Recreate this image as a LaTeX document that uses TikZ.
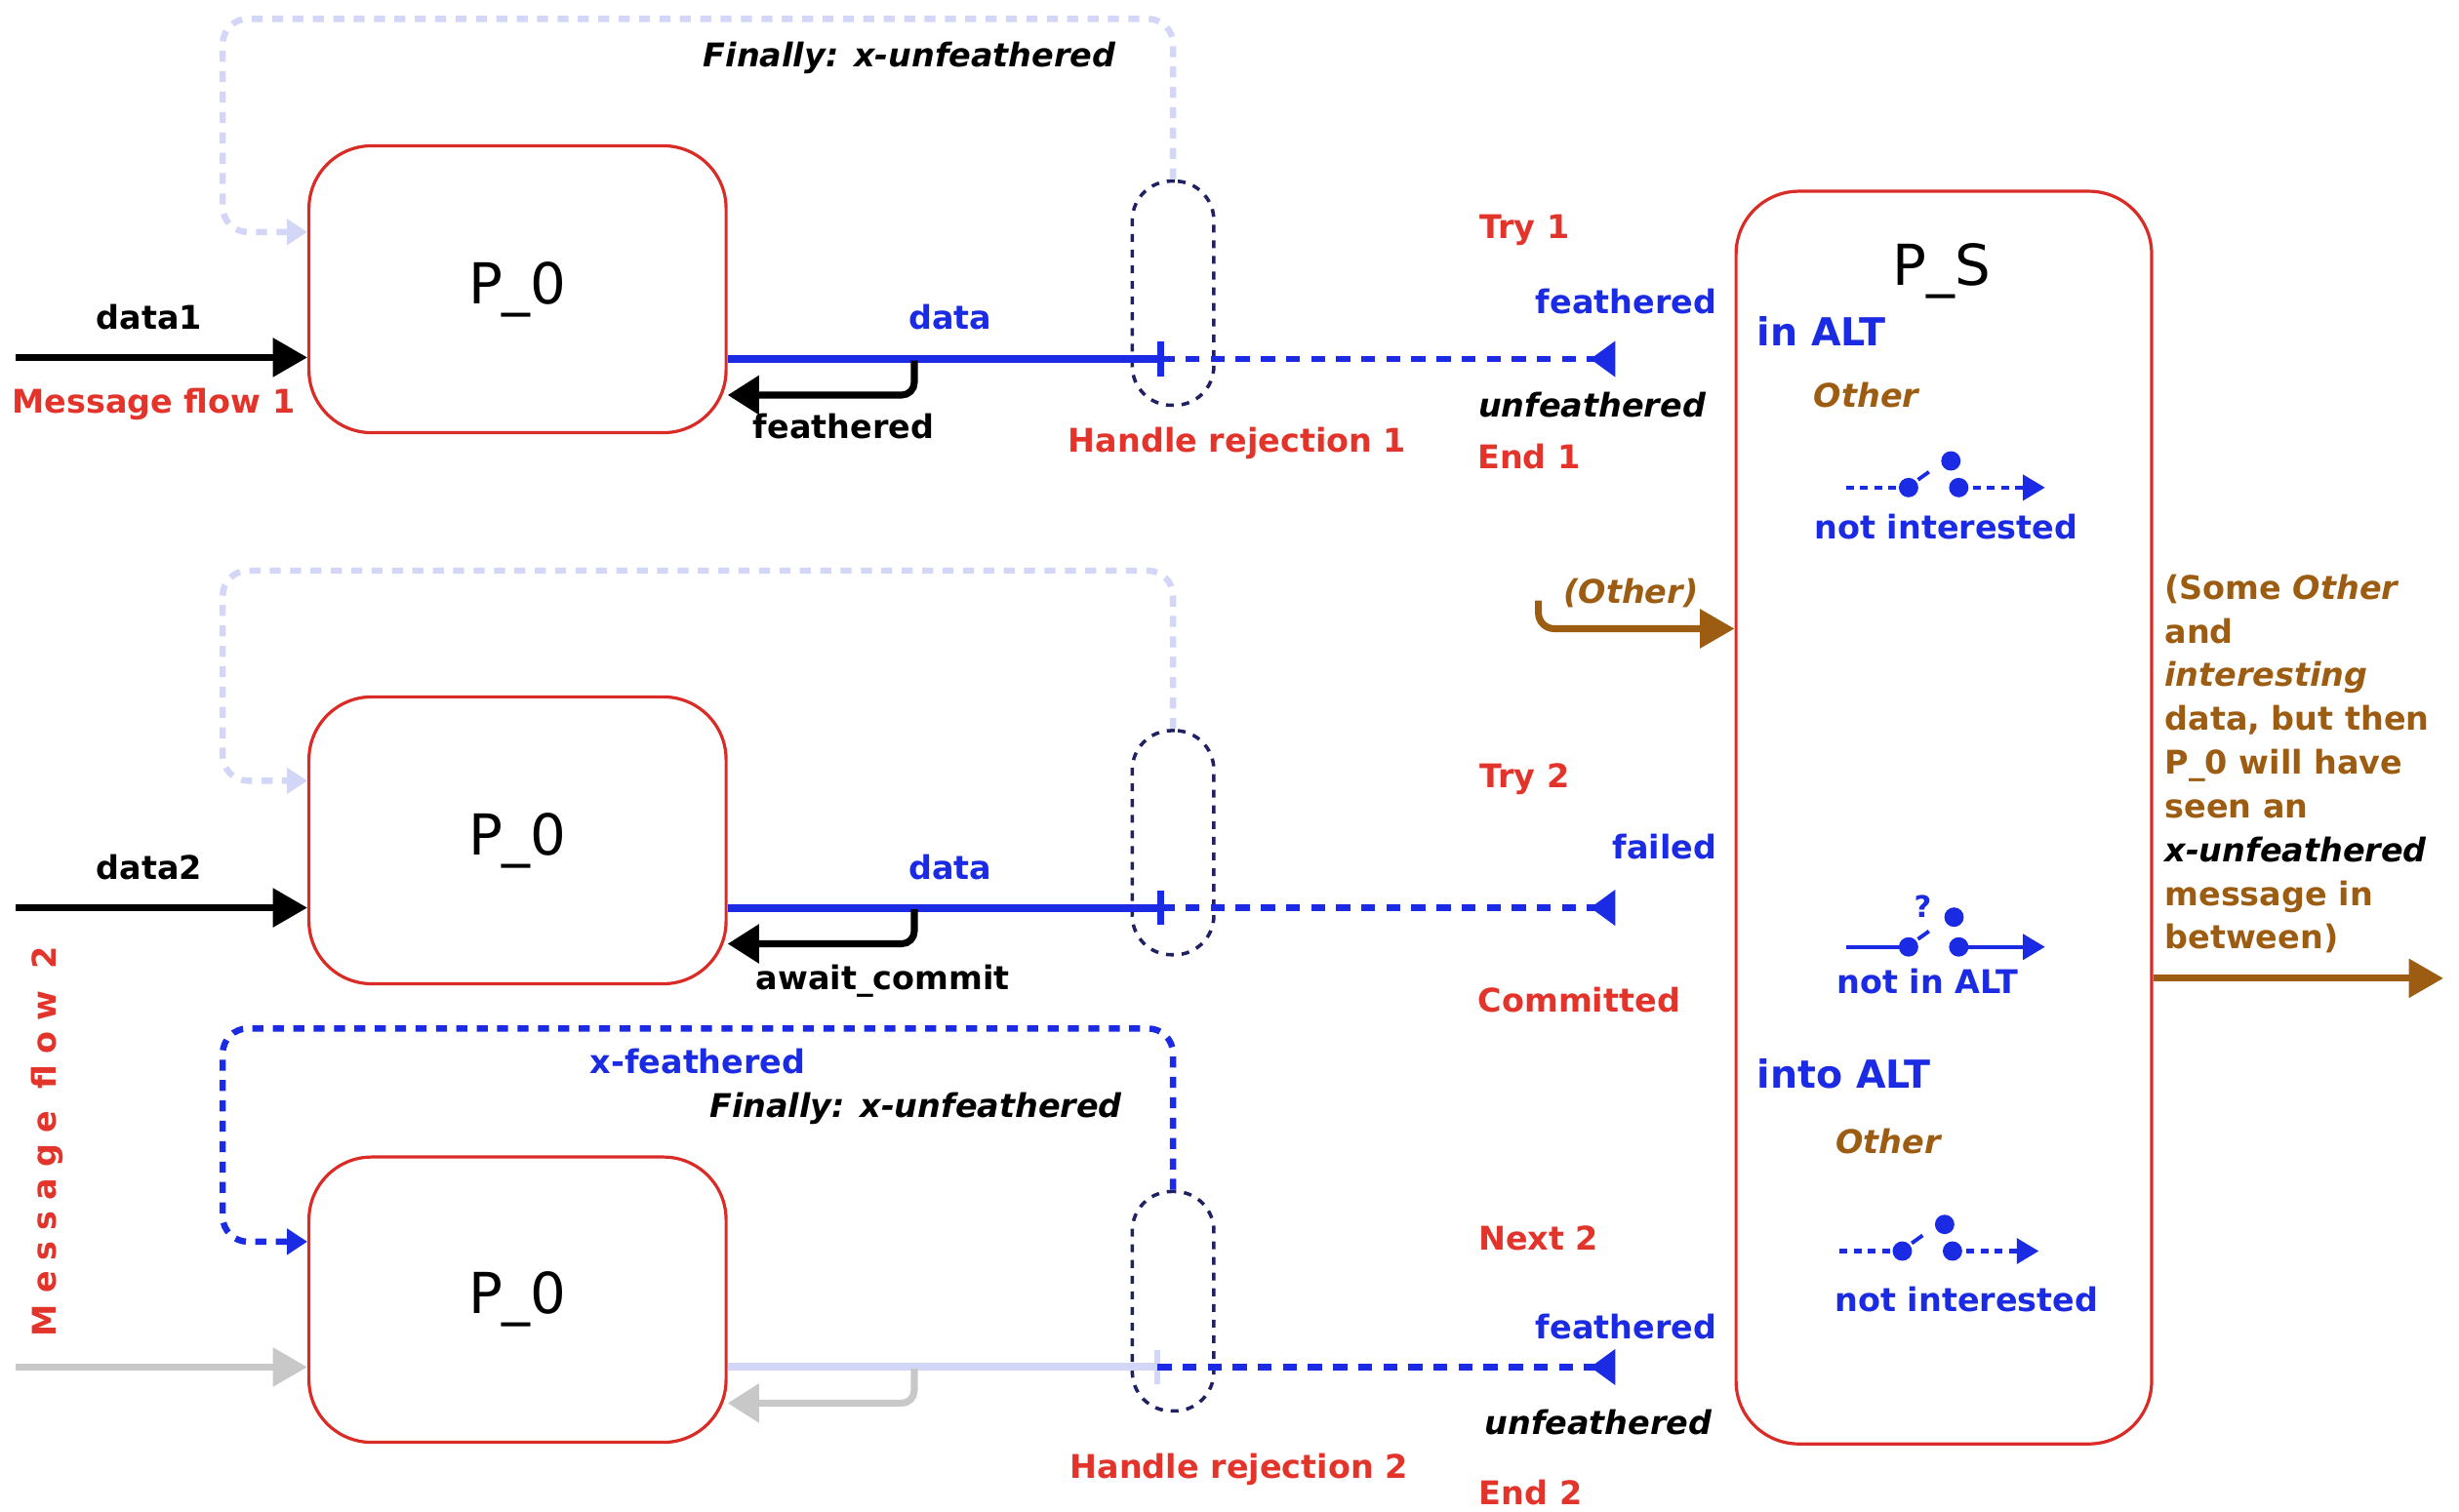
\documentclass[tikz,border=0pt]{standalone}
\usepackage{fontspec}
\setmainfont{DejaVu Sans}
\usetikzlibrary{arrows.meta,calc}
\definecolor{myred}{HTML}{E3342B}
\definecolor{boxred}{HTML}{DA2C26}
\definecolor{myblue}{HTML}{1B2BE3}
\definecolor{lav}{HTML}{D3D6F6}
\definecolor{navy}{HTML}{1F2163}
\definecolor{mybrown}{HTML}{9C5C12}
\definecolor{lgrey}{HTML}{C8C8C8}
\newcommand\myswitch[5]{% x, y, line style, raised dx, raised dy
  \begin{scope}[shift={(#1,#2)}]
    \draw[myblue, line width=1.3pt, #3] (-40,0) -- (0,0);
    \draw[myblue, line width=1.3pt, #3, -{Triangle[length=7pt,width=8pt]}] (32,0) -- (87,0);
    \fill[myblue] (0,0) circle (3.1pt);
    \fill[myblue] (32,0) circle (3.1pt);
    \fill[myblue] (#4,#5) circle (3.1pt);
    \draw[myblue, line width=1.2pt] (6,-5) -- (13,-10);
  \end{scope}}
\begin{document}
\begin{tikzpicture}[x=0.5pt,y=-0.5pt,
  lbl/.style={inner sep=0pt, font=\fontsize{10.4}{12.5}\selectfont\bfseries},
  ilbl/.style={inner sep=0pt, font=\fontsize{10.4}{12.5}\selectfont\bfseries\itshape},
  biglbl/.style={inner sep=0pt, font=\fontsize{12.3}{14}\selectfont\bfseries},
  procbox/.style={draw=boxred, line width=1pt, rounded corners=20pt, minimum width=133pt, minimum height=91.5pt, inner sep=0pt, font=\fontsize{18}{20}\selectfont},
  rejell/.style={draw=navy, line width=1.1pt, dash pattern=on 2.5pt off 2.5pt, rounded corners=12.5pt, minimum width=26pt, minimum height=71.5pt, inner sep=0pt},
  inarrow/.style={line width=2.2pt, -{Triangle[length=11pt,width=12pt]}},
  fbarrow/.style={line width=2.2pt, rounded corners=4pt, -{Triangle[length=10pt,width=12pt]}},
  dataline/.style={line width=2.5pt},
  barmark/.style={line width=2pt},
  retline/.style={myblue, line width=2pt, dash pattern=on 4.5pt off 3.5pt, -{Triangle[reversed,length=8pt,width=11pt]}},
  lavloop/.style={lav, line width=2pt, dash pattern=on 3.5pt off 3pt, rounded corners=8pt, -{Triangle[length=6.5pt,width=8pt]}},
  blueloop/.style={myblue, line width=2pt, dash pattern=on 3.5pt off 3pt, rounded corners=8pt, -{Triangle[length=6.5pt,width=8pt]}},
  brownarrow/.style={mybrown, line width=2.2pt, rounded corners=5pt, -{Triangle[length=11pt,width=12pt]}}
]
\path[use as bounding box] (0,0) rectangle (1568,964);

% process boxes
\node[procbox] (p0a) at (330,184.5) {P\_0};
\node[procbox] (p0b) at (330,536) {P\_0};
\node[procbox, minimum height=91pt] (p0c) at (330,829) {P\_0};
\node[draw=boxred, line width=1pt, rounded corners=20pt, minimum width=132.5pt, minimum height=399.5pt, inner sep=0pt] (ps) at (1239.5,521.5) {};
\node[inner sep=0pt, font=\fontsize{18}{20}\selectfont] (pslbl) at (1238,173) {P\_S};

% rejection ellipses
\node[rejell] (ella) at (748,187) {};
\node[rejell] (ellb) at (748,537.5) {};
\node[rejell, minimum height=70pt] (ellc) at (748,830) {};

% ---------- flow 1 ----------
\coordinate (in1) at (10,228);
\draw[inarrow] (in1) -- (in1 -| p0a.west);
\coordinate (bar1) at (740,229);
\draw[dataline, myblue] (p0a.east |- bar1) -- (bar1);
\draw[barmark, myblue] (bar1) ++(0,-11) -- ++(0,22);
\coordinate (tri1) at (1030,229);
\draw[retline] (bar1) -- (tri1);
\coordinate (fb1) at (583,230);
\coordinate (fbb1) at (583,252);
\draw[fbarrow] (fb1) -- (fbb1) -- (fbb1 -| p0a.east);
\coordinate (lp1) at (142,148);
\draw[lavloop] (ella.north) -- (748,12) -- (142,12) -- (lp1) -- (lp1 -| p0a.west);

% ---------- flow 2 ----------
\coordinate (in2) at (10,579);
\draw[inarrow] (in2) -- (in2 -| p0b.west);
\coordinate (bar2) at (740,579);
\draw[dataline, myblue] (p0b.east |- bar2) -- (bar2);
\draw[barmark, myblue] (bar2) ++(0,-11) -- ++(0,22);
\coordinate (tri2) at (1030,579);
\draw[retline] (bar2) -- (tri2);
\coordinate (fb2) at (583,580);
\coordinate (fbb2) at (583,602);
\draw[fbarrow] (fb2) -- (fbb2) -- (fbb2 -| p0b.east);
\coordinate (lp2) at (142,498);
\draw[lavloop] (ellb.north) -- (748,364) -- (142,364) -- (lp2) -- (lp2 -| p0b.west);

% ---------- flow 2, next ----------
\coordinate (in3) at (10,872);
\draw[inarrow, lgrey] (in3) -- (in3 -| p0c.west);
\coordinate (bar3) at (738,872);
\draw[dataline, lav] (p0c.east |- bar3) -- (bar3);
\draw[barmark, lav] (bar3) ++(0,-11) -- ++(0,22);
\coordinate (tri3) at (1030,872);
\draw[retline] (bar3) -- (tri3);
\coordinate (fb3) at (583,873);
\coordinate (fbb3) at (583,895);
\draw[fbarrow, lgrey] (fb3) -- (fbb3) -- (fbb3 -| p0c.east);
\coordinate (lp3) at (142,792);
\draw[blueloop] (ellc.north) -- (748,656) -- (142,656) -- (lp3) -- (lp3 -| p0c.west);

% ---------- P_S arrows ----------
\coordinate (oth) at (981,383);
\coordinate (othb) at (981,401);
\draw[brownarrow] (oth) -- (othb) -- (othb -| ps.west);
\coordinate (outend) at (1558,624);
\draw[brownarrow] (ps.east |- outend) -- (outend);

% switches
\myswitch{1217}{311}{dash pattern=on 2.5pt off 2pt}{27}{-17}
\myswitch{1217}{604}{}{29}{-19}
\myswitch{1213}{798}{dash pattern=on 2.5pt off 2pt}{27}{-17}
\node[lbl, text=myblue, font=\fontsize{9.5}{10}\selectfont\bfseries] (qm) at (1226,578) {?};

% ---------- labels ----------
\node[ilbl] (fin1) at (580,37) {Finally: x-unfeathered};
\node[lbl] (d1) at (95,202) {data1};
\node[lbl, text=myred] (mf1) at (98,258) {Message flow 1};
\node[lbl, text=myblue] (dt1) at (606,202) {data};
\node[lbl] (fe1) at (538,272) {feathered};
\node[lbl, text=myred] (hr1) at (789,283) {Handle rejection 1};
\node[lbl, text=myred] (try1) at (972,147) {Try 1};
\node[lbl, text=myblue, anchor=east] (psf1) at (1095,192) {feathered};
\node[ilbl, anchor=east] (psu1) at (1088,258) {unfeathered};
\node[lbl, text=myred] (end1) at (975,291) {End 1};
\node[biglbl, text=myblue, anchor=west] (inalt) at (1120,211) {in ALT};
\node[ilbl, text=mybrown] (oth1) at (1190,252) {Other};
\node[lbl, text=myblue] (ni1) at (1241,336) {not interested};
\node[ilbl, text=mybrown] (othlbl) at (1040,378) {(Other)};
\node[lbl, text=mybrown, align=left, anchor=north west, font=\fontsize{10.4}{13.95}\selectfont\bfseries] (note) at (1380,366)
  {(Some \textit{Other}\\and\\\textit{interesting}\\data, but then\\P\_0 will have\\seen an\\\textcolor{black}{\textit{x-unfeathered}}\\message in\\between)};

\node[lbl] (d2) at (95,553) {data2};
\node[lbl, text=myblue] (dt2) at (606,553) {data};
\node[lbl] (ac) at (563,626) {await\_commit};
\node[lbl, text=myred] (try2) at (972,497) {Try 2};
\node[lbl, text=myblue, anchor=east] (fail) at (1095,540) {failed};
\node[lbl, text=myred] (comm) at (1007,638) {Committed};
\node[lbl, text=myblue] (nia) at (1229,626) {not in ALT};
\node[biglbl, text=myblue, anchor=west] (intoalt) at (1120,685) {into ALT};
\node[ilbl, text=mybrown] (oth2) at (1204,728) {Other};
\node[lbl, text=myred] (next2) at (981,790) {Next 2};
\node[lbl, text=myblue] (ni2) at (1254,829) {not interested};
\node[lbl, text=myblue, anchor=east] (psf2) at (1095,846) {feathered};
\node[ilbl, anchor=east] (psu2) at (1092,907) {unfeathered};
\node[lbl, text=myred] (end2) at (976,952) {End 2};
\node[lbl, text=myred] (hr2) at (790,937) {Handle rejection 2};
\node[lbl, text=myblue] (xf) at (445,677) {x-feathered};
\node[ilbl] (fin2) at (584,707) {Finally: x-unfeathered};
\node[inner sep=0pt, rotate=90, text=myred, font=\fontsize{10.4}{12}\selectfont\bfseries\addfontfeature{LetterSpace=33}] (mf2) at (30,728) {Message flow 2};
\end{tikzpicture}
\end{document}
